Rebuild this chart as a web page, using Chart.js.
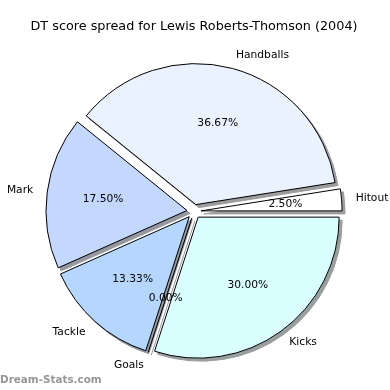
<!DOCTYPE html>
<html>
<head>
<meta charset="utf-8">
<script src="https://cdn.jsdelivr.net/npm/chart.js@4.4.0/dist/chart.umd.min.js"></script>
<style>
  html, body { margin: 0; padding: 0; background: #fff; }
</style>
</head>
<body>
<canvas id="pie" width="390" height="390"></canvas>
<script>
// slices in drawing order: clockwise from 3 o'clock (= matplotlib's counter-clockwise order reversed)
const categories = ['Kicks', 'Goals', 'Tackle', 'Mark', 'Handballs', 'Hitout'];
const dtPoints = [36, 0, 16, 21, 44, 3];
const sliceColors = ['#d9ffff', '#ccccff', '#b5d6ff', '#c4d8ff', '#ebf2ff', '#ffffff'];

const RADIUS = 141;
const EXPLODE = 0.05;
const SHADOW_OFFSET = 3;
const FONT = '"DejaVu Sans", sans-serif';

const total = dtPoints.reduce((a, b) => a + b, 0);

// matplotlib shadow: 0.3 * face colour at alpha 0.5, flattened onto white
function shadowOf(hex) {
  const n = parseInt(hex.slice(1), 16);
  const ch = [(n >> 16) & 255, (n >> 8) & 255, n & 255].map(c => Math.round(120 + c * 0.15));
  return 'rgb(' + ch.join(',') + ')';
}
const shadowColors = sliceColors.map(shadowOf);

const explodePlugin = {
  id: 'explode',
  afterDatasetsUpdate(chart) {
    chart.getDatasetMeta(0).data.forEach(arc => {
      const mid = (arc.startAngle + arc.endAngle) / 2;
      const d = EXPLODE * arc.outerRadius;
      arc.x += Math.cos(mid) * d;
      arc.y += Math.sin(mid) * d;
    });
  }
};

function radialLine(ctx, arc, color) {
  ctx.beginPath();
  ctx.moveTo(arc.x, arc.y);
  ctx.lineTo(arc.x + Math.cos(arc.startAngle) * arc.outerRadius,
             arc.y + Math.sin(arc.startAngle) * arc.outerRadius);
  ctx.strokeStyle = color;
  ctx.lineWidth = 1;
  ctx.stroke();
}

const shadowPlugin = {
  id: 'pieShadow',
  beforeDatasetsDraw(chart) {
    const ctx = chart.ctx;
    ctx.save();
    ctx.translate(SHADOW_OFFSET, SHADOW_OFFSET);
    chart.getDatasetMeta(0).data.forEach((arc, i) => {
      if (arc.circumference === 0) {
        radialLine(ctx, arc, shadowColors[i]);
        return;
      }
      const opts = arc.options;
      arc.options = Object.assign({}, opts, {
        backgroundColor: shadowColors[i],
        borderColor: shadowColors[i]
      });
      arc.draw(ctx);
      arc.options = opts;
    });
    ctx.restore();
  }
};

const labelPlugin = {
  id: 'pieLabels',
  afterDatasetsDraw(chart) {
    const ctx = chart.ctx;
    ctx.save();
    chart.getDatasetMeta(0).data.forEach((arc, i) => {
      if (arc.circumference === 0) radialLine(ctx, arc, '#000');
    });
    ctx.fillStyle = '#000';
    ctx.font = '10.7px ' + FONT;
    ctx.textBaseline = 'middle';
    chart.getDatasetMeta(0).data.forEach((arc, i) => {
      const mid = (arc.startAngle + arc.endAngle) / 2;
      const r = arc.outerRadius;
      const cos = Math.cos(mid), sin = Math.sin(mid);
      ctx.textAlign = cos > 0 ? 'left' : 'right';
      ctx.fillText(categories[i], arc.x + cos * r * 1.1, arc.y + sin * r * 1.1);
      ctx.textAlign = 'center';
      const pct = (dtPoints[i] / total * 100).toFixed(2) + '%';
      ctx.fillText(pct, arc.x + cos * r * 0.6, arc.y + sin * r * 0.6);
    });
    ctx.restore();
  },
  afterDraw(chart) {
    const ctx = chart.ctx;
    ctx.save();
    ctx.font = 'bold 10.4px ' + FONT;
    ctx.fillStyle = '#969696';
    ctx.textAlign = 'left';
    ctx.textBaseline = 'alphabetic';
    ctx.fillText('Dream-Stats.com', 0, 383);
    ctx.restore();
  }
};

new Chart(document.getElementById('pie').getContext('2d'), {
  type: 'pie',
  data: {
    labels: categories,
    datasets: [{
      data: dtPoints,
      backgroundColor: sliceColors,
      borderColor: '#000',
      borderWidth: 1
    }]
  },
  options: {
    responsive: false,
    animation: false,
    events: [],
    rotation: 90,
    radius: RADIUS,
    layout: { padding: { left: 2, right: 4, top: 0, bottom: 11 } },
    plugins: {
      legend: { display: false },
      tooltip: { enabled: false },
      title: {
        display: true,
        text: 'DT score spread for Lewis Roberts-Thomson (2004)',
        color: '#000',
        font: { family: FONT, size: 12.8, weight: 'normal' },
        padding: { top: 18.5, bottom: 10 }
      }
    }
  },
  plugins: [explodePlugin, shadowPlugin, labelPlugin]
});
</script>
</body>
</html>
